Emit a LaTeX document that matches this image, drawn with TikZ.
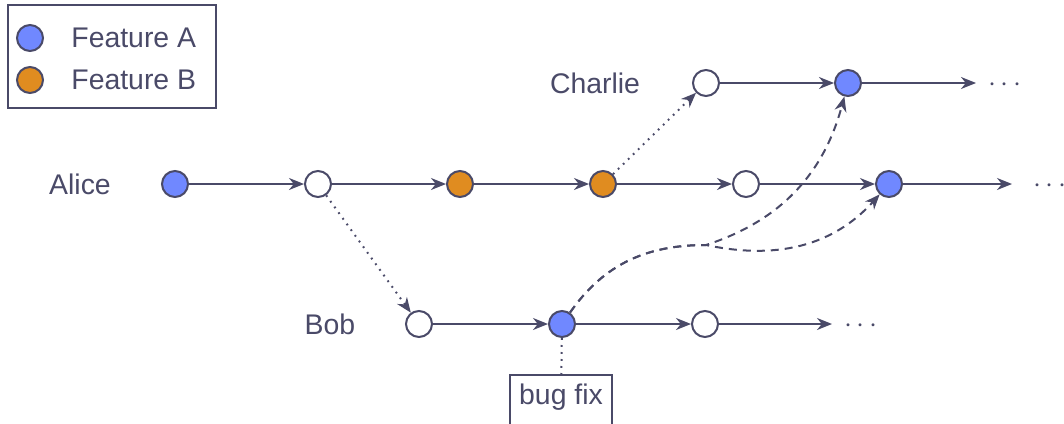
\documentclass[tikz,border=0pt]{standalone}
\usepackage{fontspec}
\setmainfont{Liberation Sans}
\usetikzlibrary{arrows.meta}
\definecolor{ink}{HTML}{4A4A68}
\definecolor{fa}{HTML}{7088FF}
\definecolor{fb}{HTML}{E08C20}
\begin{document}
\begin{tikzpicture}[x=0.5pt,y=-0.5pt,
  every node/.style={text=ink,font=\fontsize{14.2}{16}\selectfont},
  commit/.style={circle,draw=ink,line width=1pt,minimum size=13pt,inner sep=0pt,fill=white},
  ca/.style={commit,fill=fa},
  cb/.style={commit,fill=fb},
  flow/.style={draw=ink,line width=1pt,-{Stealth[length=7.5pt,width=6pt,inset=2.4pt]}},
  dotline/.style={dash pattern=on 0.9pt off 2.6pt},
  dashline/.style={dash pattern=on 4pt off 3pt},
  dotsnode/.style={inner sep=0pt,font=\fontsize{15}{16}\selectfont}]
\useasboundingbox (0,0) rectangle (1064,423);
% legend
\node[draw=ink,line width=1pt,minimum width=104pt,minimum height=51.5pt,inner sep=0pt] (legend) at (112,56.5) {};
\node[ca] (la) at (30,38) {};
\node[cb] (lb) at (30,80) {};
\node[anchor=west,inner sep=0pt] (lat) at (71,38) {Feature A};
\node[anchor=west,inner sep=0pt] (lbt) at (71,80) {Feature B};
% labels
\node (alice) at (80,184) {Alice};
\node (charlie) at (595,83) {Charlie};
\node (bob) at (330,324) {Bob};
% Alice row
\node[ca] (a1) at (175,184) {};
\node[commit] (a2) at (318,184) {};
\node[cb] (a3) at (460,184) {};
\node[cb] (a4) at (603,184) {};
\node[commit] (a5) at (746,184) {};
\node[ca] (a6) at (889,184) {};
\coordinate (aend) at (1012,184);
\node[dotsnode] (ad) at (1050,186) {$\cdots$};
% Charlie row
\node[commit] (c1) at (706,83) {};
\node[ca] (c2) at (848,83) {};
\coordinate (cend) at (976,83);
\node[dotsnode] (cd) at (1005,85) {$\cdots$};
% Bob row
\node[commit] (b1) at (419,324) {};
\node[ca] (b2) at (562,324) {};
\node[commit] (b3) at (705,324) {};
\coordinate (bend) at (832,324);
\node[dotsnode] (bd) at (861,326) {$\cdots$};
% bug fix box
\node[draw=ink,line width=1pt,minimum width=51pt,minimum height=25pt,inner sep=0pt] (bug) at (561,400) {};
\node (bugt) at (561,397) {bug fix};
% flows
\draw[flow] (a1) -- (a2);
\draw[flow] (a2) -- (a3);
\draw[flow] (a3) -- (a4);
\draw[flow] (a4) -- (a5);
\draw[flow] (a5) -- (a6);
\draw[flow] (a6) -- (aend);
\draw[flow] (c1) -- (c2);
\draw[flow] (c2) -- (cend);
\draw[flow] (b1) -- (b2);
\draw[flow] (b2) -- (b3);
\draw[flow] (b3) -- (bend);
% branches
\draw[flow,dotline] (a2) -- (b1);
\draw[flow,dotline] (a4) -- (c1);
\draw[draw=ink,line width=1pt,dotline] (b2) -- (bug);
\coordinate (mid) at (706,245);
\draw[flow,dashline] (b2) to[out=55,in=180] (mid) to[out=18,in=-105] (c2);
\draw[flow,dashline] (b2) to[out=55,in=180] (mid) to[out=-12,in=-132] (a6);
\end{tikzpicture}
\end{document}
